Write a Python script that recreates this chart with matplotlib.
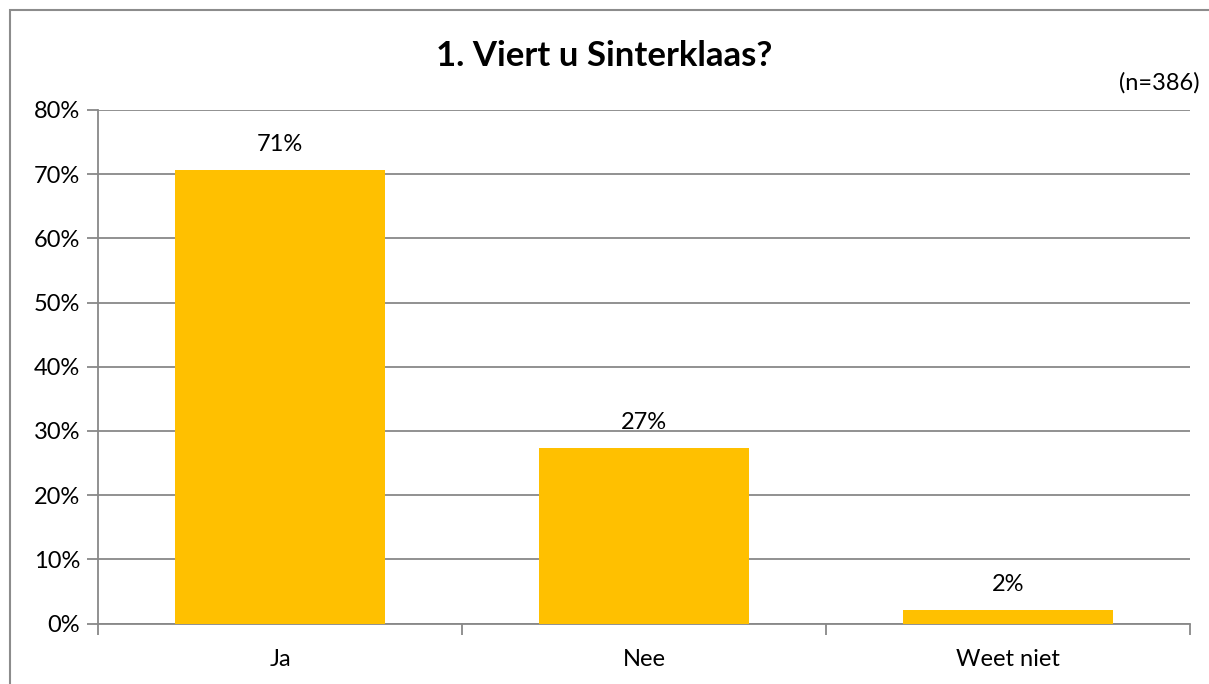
import matplotlib
matplotlib.use("Agg")
import matplotlib.pyplot as plt
from matplotlib.patches import Rectangle
from matplotlib.ticker import FuncFormatter

categories = ["Ja", "Nee", "Weet niet"]
values = [70.6, 27.3, 2.1]
labels = ["71%", "27%", "2%"]
yticks = [0, 10, 20, 30, 40, 50, 60, 70, 80]

plt.rcParams['font.family'] = ['Lato', 'DejaVu Sans']

W, H = 1209, 684
fig = plt.figure(figsize=(W / 100, H / 100), dpi=100)
fig.patch.set_facecolor("white")

# outer chart border
fig.add_artist(Rectangle((10 / W, -0.05), 1.2, 1 - 10 / H + 0.05, transform=fig.transFigure,
                         fill=False, edgecolor="#8c8c8c", linewidth=1.5))

left, right = 98 / W, 1190 / W
bottom, top = 1 - 623.5 / H, 1 - 110 / H
ax = fig.add_axes([left, bottom, right - left, top - bottom])

x = list(range(len(categories)))
ax.bar(x, values, width=0.577, color="#FFC000", zorder=3)
ax.set_xlim(-0.5, len(categories) - 0.5)
ax.set_ylim(0, 80)

grid_c = "#888888"
ax.set_yticks(yticks)
ax.yaxis.set_major_formatter(FuncFormatter(lambda v, p: f"{int(v)}%"))
ax.grid(axis="y", color=grid_c, linewidth=1.3, zorder=0)
ax.set_axisbelow(True)

ax.set_xticks(x)
ax.set_xticklabels(categories)
ax.set_xticks([i - 0.5 for i in range(len(categories) + 1)], minor=True)
ax.tick_params(axis="x", which="major", length=0, pad=18, labelsize=17)
ax.tick_params(axis="x", which="minor", length=8, width=1.3, color=grid_c, direction="out")
ax.tick_params(axis="y", length=8, width=1.3, color=grid_c, labelsize=17, pad=5)

for s in ["top", "right"]:
    ax.spines[s].set_visible(False)
for s in ["left", "bottom"]:
    ax.spines[s].set_color(grid_c)
    ax.spines[s].set_linewidth(1.3)

for xi, v, lab in zip(x, values, labels):
    ax.annotate(lab, (xi, v), xytext=(0, 11), textcoords="offset points",
                ha="center", va="bottom", fontsize=17, color="black")

fig.text(0.5, 1 - 56 / H, "1. Viert u Sinterklaas?", ha="center", va="center",
         fontsize=25, fontweight="bold", color="black")
fig.text(1200 / W, 1 - 83 / H, "(n=386)", ha="right", va="center", fontsize=17, color="black")

fig.savefig("out.png", dpi=100, facecolor="white")
